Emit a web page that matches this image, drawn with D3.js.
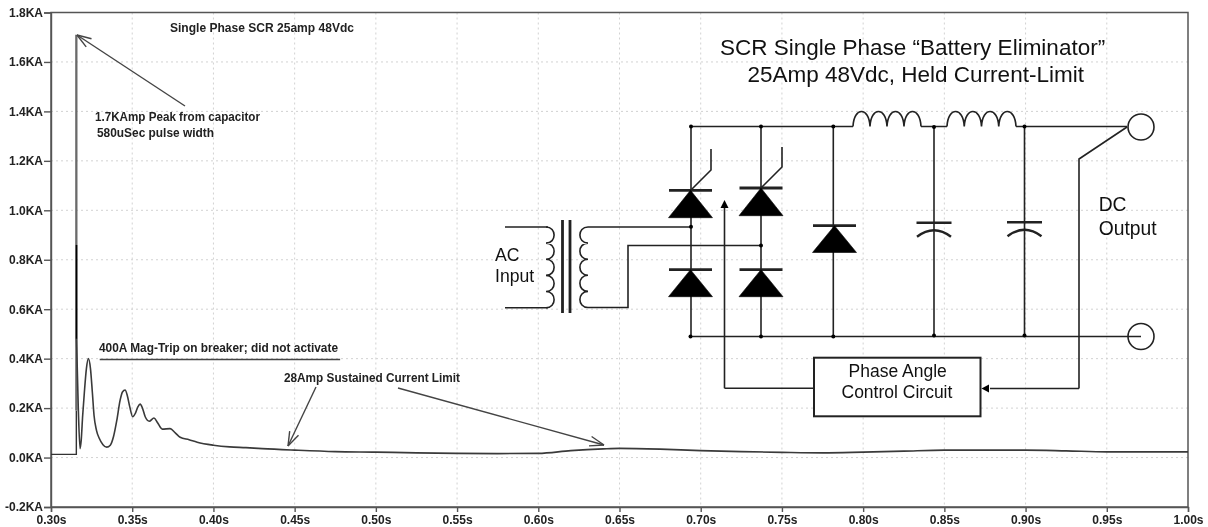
<!DOCTYPE html>
<html><head><meta charset="utf-8">
<script src="https://cdnjs.cloudflare.com/ajax/libs/d3/7.8.5/d3.min.js"></script>
<style>
html,body{margin:0;padding:0;background:#fff;overflow:hidden}
svg{display:block;filter:blur(0.4px)}
.tick-label{font:bold 12px "Liberation Sans",Arial,sans-serif;fill:#222}
.note{font:bold 11.9px "Liberation Sans",Arial,sans-serif;fill:#222}
.sch{font-family:"Liberation Sans",Arial,sans-serif;fill:#111}
</style></head><body><svg id="c" width="1208" height="527"></svg>
<script>
// Chart values
const xTicks=[0.30,0.35,0.40,0.45,0.50,0.55,0.60,0.65,0.70,0.75,0.80,0.85,0.90,0.95,1.00];
const yTicks=[-0.2,0,0.2,0.4,0.6,0.8,1.0,1.2,1.4,1.6,1.8];
const baseTime=[0.30,0.3156,0.3156];
const baseCurrent=[0.013,0.013,0.19];
const spikeTime=[0.3156,0.3156];
const spikeCurrent=[0.19,1.71];
const spikeCoreTime=[0.3157,0.3157];
const spikeCoreCurrent=[0.48,0.86];
const ringTime=[0.3157,0.3168,0.3179,0.3186,0.3195,0.3205,0.3218,0.3230,0.3243,0.3255,0.3265,0.3280,0.3297,0.3320,0.3343,0.3365,0.3385,0.3405,0.3425,0.3440,0.3456,0.3470,0.3485,0.3503,0.3520,0.3535,0.3549,0.3563,0.3580,0.3605,0.3634,0.3655,0.3685,0.3733,0.3765,0.3795,0.385,0.39,0.40,0.41,0.42,0.43,0.45,0.475,0.50,0.525,0.55,0.575,0.60,0.62,0.64,0.65,0.675,0.70,0.725,0.75,0.775,0.80,0.825,0.85,0.875,0.90,0.925,0.95,0.975,1.00];
const ringCurrent=[0.48,0.20,0.036,0.070,0.170,0.260,0.360,0.400,0.360,0.260,0.170,0.110,0.078,0.052,0.042,0.050,0.085,0.150,0.230,0.265,0.273,0.250,0.205,0.165,0.180,0.205,0.216,0.200,0.165,0.147,0.160,0.142,0.115,0.117,0.100,0.082,0.072,0.062,0.050,0.043,0.040,0.036,0.030,0.024,0.022,0.019,0.017,0.016,0.017,0.028,0.035,0.037,0.034,0.028,0.024,0.021,0.019,0.022,0.026,0.030,0.030,0.030,0.027,0.023,0.023,0.023];
const refLineTime=[0.330,0.478];
const refLineCurrent=[0.397,0.397];
const notes=[["Single Phase SCR 25amp 48Vdc",170,32,184],["1.7KAmp Peak from capacitor",95,121,165],["580uSec pulse width",97,137,117],["400A Mag-Trip on breaker; did not activate",99,352,239],["28Amp Sustained Current Limit",284,382,176]];

const svg=d3.select("#c");
const x=d3.scaleLinear().domain([0.30,1.00]).range([51,1188]);
const y=d3.scaleLinear().domain([-0.2,1.8]).range([507,12.5]);
const fmtX=d=>d.toFixed(2)+"s";
const fmtY=d=>d.toFixed(1)+"KA";

// grid
const grid=svg.append("g").attr("stroke","#d2d2d2").attr("stroke-dasharray","2 3").attr("stroke-width",1);
grid.selectAll(".gx").data(xTicks.slice(1,-1)).join("line").attr("x1",x).attr("x2",x).attr("y1",y(1.8)).attr("y2",y(-0.2));
grid.selectAll(".gy").data(yTicks.slice(1,-1)).join("line").attr("y1",y).attr("y2",y).attr("x1",x(0.3)).attr("x2",x(1));

// axes
const ax=svg.append("g").attr("transform",`translate(0,${y(-0.2)})`).call(d3.axisBottom(x).tickValues(xTicks).tickFormat(fmtX).tickSize(5).tickPadding(3));
const ay=svg.append("g").attr("transform",`translate(${x(0.3)},0)`).call(d3.axisLeft(y).tickValues(yTicks).tickFormat(fmtY).tickSize(7).tickPadding(1));
[ax,ay].forEach(g=>{g.selectAll("path,line").attr("stroke","#555").attr("stroke-width",1.4);
 g.selectAll("text").attr("class","tick-label").attr("fill",null);});
svg.append("rect").attr("x",x(0.3)).attr("y",y(1.8)).attr("width",x(1)-x(0.3)).attr("height",y(-0.2)-y(1.8)).attr("fill","none").attr("stroke","#555").attr("stroke-width",1.5);

// traces
const ln=d3.line().x(d=>x(d[0])).y(d=>y(d[1]));
const zip=(a,b)=>a.map((v,i)=>[v,b[i]]);
function trace(a,b,col,w,curve){svg.append("path").attr("d",ln.curve(curve||d3.curveLinear)(zip(a,b))).attr("fill","none").attr("stroke",col).attr("stroke-width",w);}
trace(baseTime,baseCurrent,"#333",1.4);
trace(spikeTime,spikeCurrent,"#6a6a6a",2.3);
trace(spikeCoreTime,spikeCoreCurrent,"#000",1.6);
trace(ringTime,ringCurrent,"#3a3a3a",1.6,d3.curveMonotoneX);
trace(refLineTime,refLineCurrent,"#444",1.5);

// annotations
svg.selectAll(".note").data(notes).join("text").attr("class","note").attr("x",d=>d[1]).attr("y",d=>d[2]).attr("textLength",d=>d[3]).attr("lengthAdjust","spacingAndGlyphs").text(d=>d[0]);
function openArrow(a,b,c,d,col){
 const g=svg.append("g").attr("fill","none").attr("stroke",col||"#444").attr("stroke-width",1.4);
 g.append("line").attr("x1",a).attr("y1",b).attr("x2",c).attr("y2",d);
 const t=Math.atan2(b-d,a-c),L=15;
 [0.33,-0.33].forEach(o=>g.append("line").attr("x1",c).attr("y1",d).attr("x2",c+L*Math.cos(t+o)).attr("y2",d+L*Math.sin(t+o)));
}
openArrow(185,106,77,35);
openArrow(316,387,288,446);
openArrow(398,388,604,445);

// schematic
const s=svg.append("g").attr("fill","none").attr("stroke","#222").attr("stroke-width",1.6);
const P=(d,w)=>s.append("path").attr("d",d).attr("stroke-width",w||1.6);
P("M691 126.5H853M921 126.5H947M1016 126.5H1127");
P("M691 336.5H1141");
P("M691 126.5V336.5M761 126.5V336.5M833.3 126.5V336.5M934 126.5V336M1024.5 126.5V336");
P("M505 227H548M505 307.7H548M588 227H691M588 307.5H628V245.5H761");
P("M724.5 388.3V206M724.5 388.3H814");
P("M1079 388.5H990M1079 388.5V159L1127 127");
function bumps(x0,yy,n,w,h){let d=`M${x0} ${yy}`;for(let i=0;i<n;i++){d+=`C${x0+i*w+w*0.05} ${yy-h*1.3} ${x0+(i+1)*w-w*0.05} ${yy-h*1.3} ${x0+(i+1)*w} ${yy}`;}return d;}
P(bumps(853,126.5,4,17,15.4));
P(bumps(947,126.5,4,17.25,15.4));
function vbumps(xx,y0,n,hh,b){let d=`M${xx} ${y0}`;for(let i=0;i<n;i++){d+=`C${xx+b*1.35} ${y0+i*hh} ${xx+b*1.35} ${y0+(i+1)*hh} ${xx} ${y0+(i+1)*hh}`;}return d;}
P(vbumps(546,227,5,16.14,8));
P(vbumps(588,227,5,16.1,-8));
P("M562.5 220V313M570 220V313",2.8);
// diodes
function diode(cx,bar,base){
 P(`M${cx-21.5} ${bar}H${cx+21.5}`,2.8);
 s.append("path").attr("d",`M${cx} ${bar}L${cx+22} ${base}H${cx-22}Z`).attr("fill","#000").attr("stroke","#000").attr("stroke-width",0.6);
}
diode(690.5,190.3,217.7);diode(761,188,215.7);diode(690.5,269.7,296.7);diode(761,269.7,296.7);diode(834.5,225.7,252.5);
P("M691 190L711 170V149");P("M761 188L782 167V147");
// caps
[[934,222.7],[1024.5,222.3]].forEach(([cx,t])=>{P(`M${cx-17.5} ${t}H${cx+17.5}`,2.6);P(`M${cx-17} ${t+14}Q${cx} ${t+1} ${cx+17} ${t+14}`,2.4);});
// circles, dots, box
s.append("circle").attr("cx",1141).attr("cy",127).attr("r",13).attr("fill","#fff");
s.append("circle").attr("cx",1141).attr("cy",336.5).attr("r",13);
s.append("rect").attr("x",814).attr("y",357.7).attr("width",166.5).attr("height",58.6).attr("fill","#fff").attr("stroke-width",2);
[[691,126.5],[761,126.5],[833.3,126.5],[691,226.7],[761,245.5],[690.5,336.5],[761,336.5],[833.3,336.5],[934,127],[934,335.5],[1024.5,126.5],[1024.5,335.5]].forEach(p=>
 svg.append("circle").attr("cx",p[0]).attr("cy",p[1]).attr("r",2).attr("fill","#000"));
svg.append("path").attr("d","M724.5 200L720.5 208H728.5ZM981.5 388.5L989 384.5V392.5Z").attr("fill","#000");
// schematic text
[["SCR Single Phase “Battery Eliminator”",720,55,22.5],["25Amp 48Vdc, Held Current-Limit",747.5,82,22.5],["AC",495,261,17.6],["Input",495,281.5,17.6],["DC",1098.7,211,19.3],["Output",1098.7,235,19.3],["Phase Angle",848.5,376.5,17.5],["Control Circuit",841.5,398,17.5]].forEach(t=>
 svg.append("text").attr("class","sch").attr("x",t[1]).attr("y",t[2]).attr("font-size",t[3]).text(t[0]));
</script></body></html>
